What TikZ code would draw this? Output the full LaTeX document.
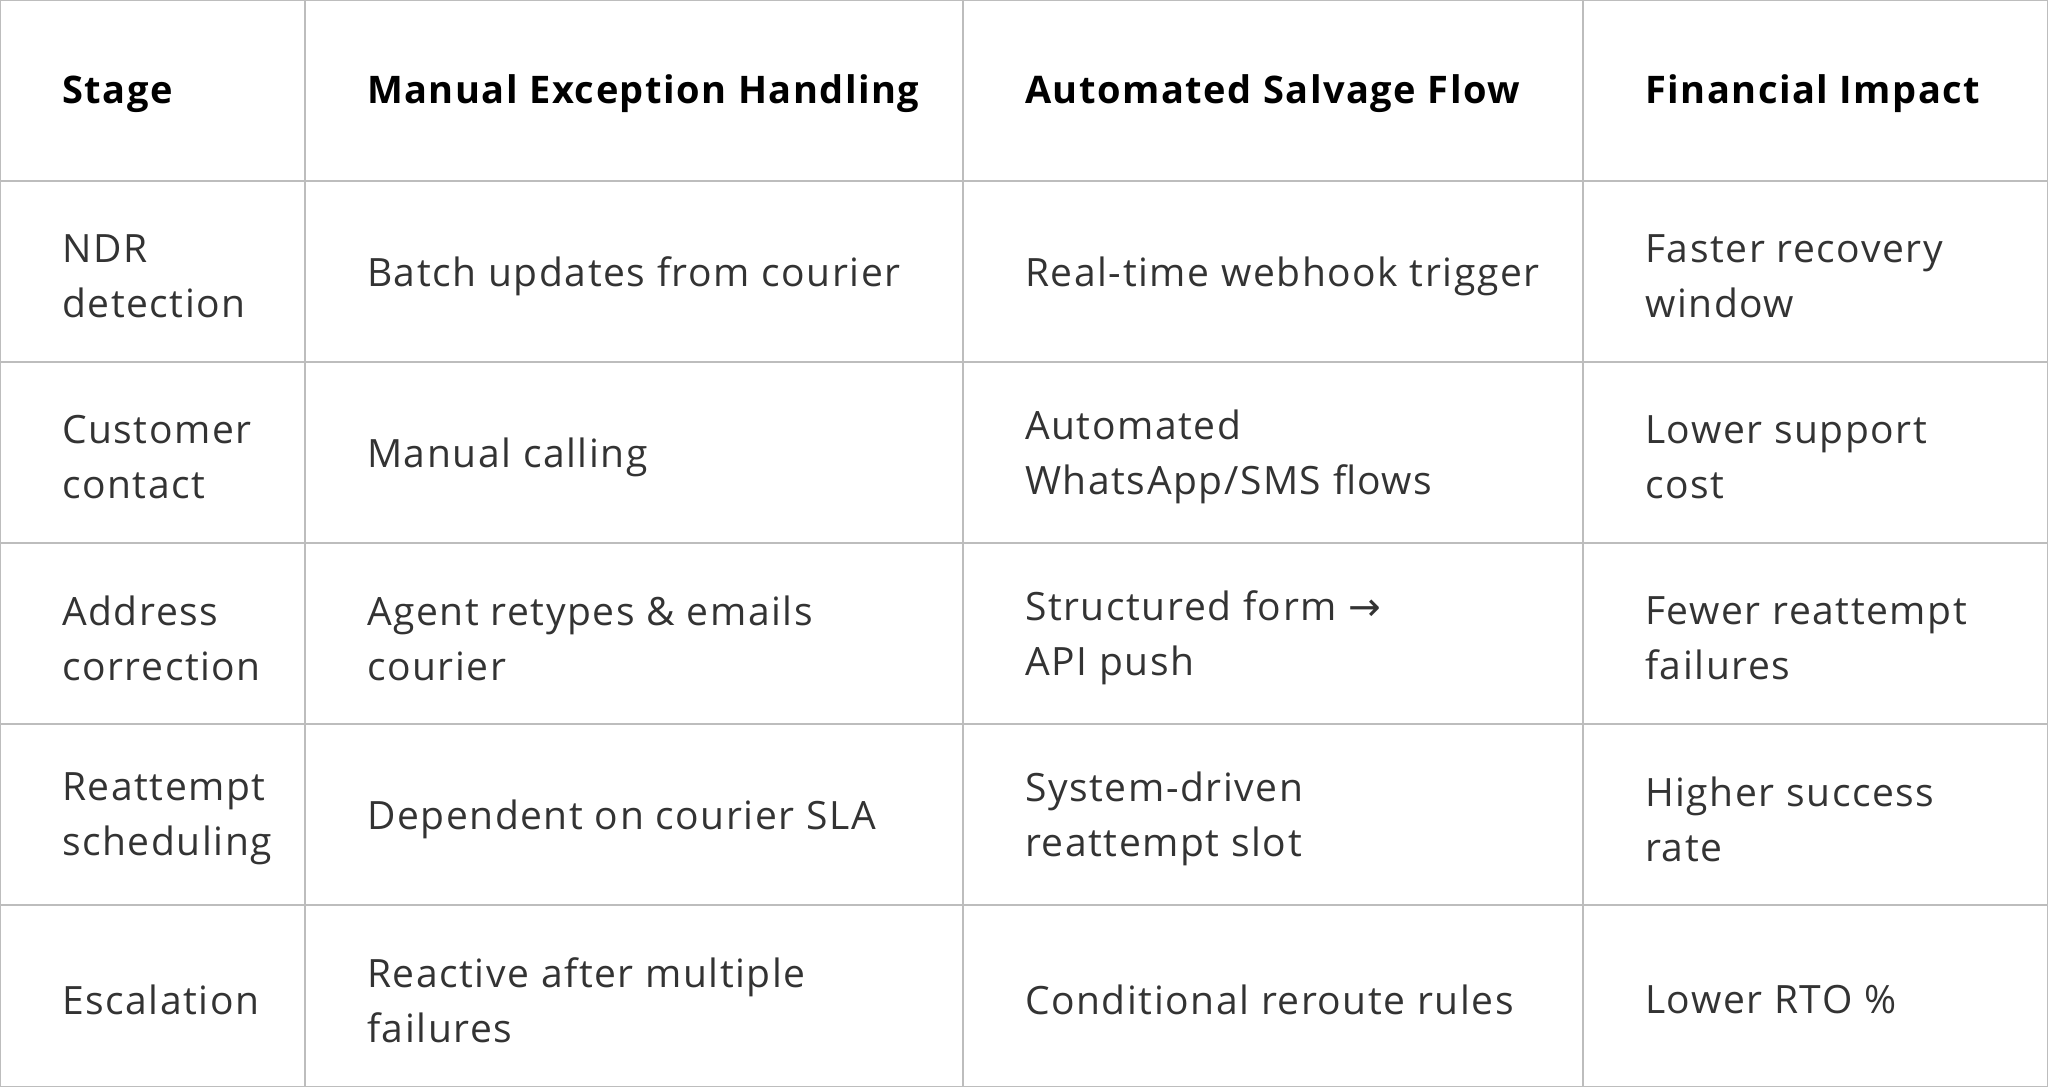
\documentclass[tikz,border=0pt]{standalone}
\usepackage{fontspec}
\setmainfont{Open Sans}[LetterSpace=4]
\definecolor{grid}{HTML}{BDBDBD}
\definecolor{txt}{HTML}{333333}
\begin{document}
\begin{tikzpicture}[x=1pt,y=-1pt,
  cell/.style={anchor=west,align=left,inner sep=0pt,text=txt,font=\fontsize{39}{55}\selectfont},
  head/.style={anchor=west,align=left,inner sep=0pt,text=black,font=\fontsize{38}{55}\selectfont\bfseries},
  rule/.style={draw=grid,line width=1.4pt}]
\useasboundingbox (0,0) rectangle (2048,1087);
\draw[rule] (0.7,0.7) rectangle (2047.3,1086.3);
\foreach \x in {305,963,1583} \draw[rule] (\x,0) -- (\x,1087);
\foreach \y in {181,362,543,724,905} \draw[rule] (0,\y) -- (2048,\y);
\node[head] (h1) at (62,94) {Stage};
\node[head] (h2) at (367,94) {Manual Exception Handling};
\node[head] (h3) at (1025,94) {Automated Salvage Flow};
\node[head] (h4) at (1645,94) {Financial Impact};
% row 1
\node[cell] (a1) at (62,276) {NDR\\detection};
\node[cell] (b1) at (367,276) {Batch updates from courier};
\node[cell] (c1) at (1025,276) {Real-time webhook trigger};
\node[cell] (d1) at (1645,276) {Faster recovery\\window};
% row 2
\node[cell] (a2) at (62,457) {Customer\\contact};
\node[cell] (b2) at (367,457) {Manual calling};
\node[cell] (c2) at (1025,457) {Automated\\WhatsApp/SMS flows};
\node[cell] (d2) at (1645,457) {Lower support\\cost};
% row 3
\node[cell] (a3) at (62,638) {Address\\correction};
\node[cell] (b3) at (367,638) {Agent retypes \& emails\\courier};
\node[cell] (c3) at (1025,638) {Structured form {\fontspec{DejaVu Sans}→}\\API push};
\node[cell] (d3) at (1645,638) {Fewer reattempt\\failures};
% row 4
\node[cell] (a4) at (62,819) {Reattempt\\scheduling};
\node[cell] (b4) at (367,819) {Dependent on courier SLA};
\node[cell] (c4) at (1025,819) {System-driven\\reattempt slot};
\node[cell] (d4) at (1645,819) {Higher success\\rate};
% row 5
\node[cell] (a5) at (62,1000) {Escalation};
\node[cell] (b5) at (367,1000) {Reactive after multiple\\failures};
\node[cell] (c5) at (1025,1000) {Conditional reroute rules};
\node[cell] (d5) at (1645,1000) {Lower RTO \%};
\end{tikzpicture}
\end{document}
